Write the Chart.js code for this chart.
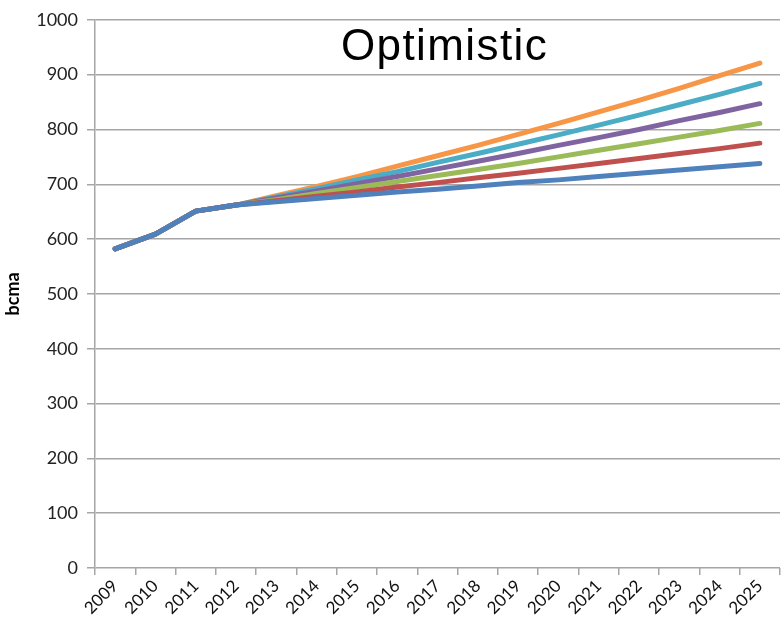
<!DOCTYPE html>
<html>
<head>
<meta charset="utf-8">
<script src="https://cdn.jsdelivr.net/npm/chart.js@4"></script>
<style>
	body { margin: 0; background: #fff; }
	#wrap { position: relative; width: 781px; height: 628px; }
	#chartTitle {
		position: absolute;
		left: 341px;
		top: 23px;
		font: 44px "Liberation Sans", Arial, sans-serif;
		line-height: 44px;
		letter-spacing: 1.4px;
		color: #000;
		white-space: nowrap;
	}
</style>
</head>
<body>
<div id="wrap">
	<canvas id="chartOptimistic" width="781" height="628"></canvas>
	<div id="chartTitle">Optimistic</div>
</div>
<script>
const years = ["2009", "2010", "2011", "2012", "2013", "2014", "2015", "2016", "2017",
	"2018", "2019", "2020", "2021", "2022", "2023", "2024", "2025"];
const yTicks = [0, 100, 200, 300, 400, 500, 600, 700, 800, 900, 1000];

const history = [582, 609, 651, 662];
const blue = [...history, 668, 674, 680, 686, 691, 697, 703, 708, 714, 720, 726, 732, 738];
const red = [...history, 670, 678, 686, 695, 703, 712, 720, 729, 738, 747, 756, 765, 775];
const green = [...history, 672, 683, 694, 705, 716, 727, 738, 750, 762, 774, 786, 798, 811];
const purple = [...history, 675, 688, 701, 714, 728, 742, 756, 771, 785, 800, 816, 831, 847];
const teal = [...history, 677, 692, 708, 723, 740, 756, 773, 790, 808, 826, 845, 864, 884];
const orange = [...history, 679, 696, 714, 733, 752, 771, 791, 811, 832, 853, 875, 898, 921];

const seriesColors = ["#4F81BD", "#C0504D", "#9BBB59", "#8064A2", "#4BACC6", "#F79646"];
const seriesData = [blue, red, green, purple, teal, orange];

const ctx = document.getElementById("chartOptimistic");
const chart = new Chart(ctx, {
	type: "line",
	data: {
		labels: years,
		// first dataset is drawn on top, like the blue base line in the picture
		datasets: seriesData.map((d, i) => ({
			data: d,
			borderColor: seriesColors[i],
			backgroundColor: seriesColors[i],
			borderWidth: 5,
			pointRadius: 0,
			tension: 0,
			borderCapStyle: "round",
			borderJoinStyle: "round",
		})),
	},
	options: {
		responsive: false,
		animation: false,
		layout: { padding: { top: 18, right: 1, left: 0, bottom: 0 } },
		plugins: { legend: { display: false }, tooltip: { enabled: false } },
		scales: {
			x: {
				offset: true,
				grid: {
					offset: true,
					drawOnChartArea: false,
					drawTicks: true,
					tickLength: 7,
					color: "#A6A6A6",
					lineWidth: 1.5,
				},
				border: { display: false },
				ticks: {
					minRotation: 45,
					maxRotation: 45,
					autoSkip: false,
					padding: 1,
					color: "#111",
					font: { family: "Lato", size: 17 },
				},
				afterFit: (scale) => { scale.height = 60; },
			},
			y: {
				min: 0,
				max: 1000,
				afterBuildTicks: (scale) => {
					scale.ticks = yTicks.map((v) => ({ value: v }));
				},
				grid: {
					color: "#A6A6A6",
					lineWidth: 1.5,
					tickLength: 8,
				},
				border: { color: "#A6A6A6", width: 1.5 },
				ticks: {
					padding: 9,
					color: "#222",
					font: { family: "Lato", size: 18 },
					callback: (v) => String(v),
				},
				title: {
					display: true,
					text: "bcma",
					color: "#000",
					padding: { top: 2, bottom: 0 },
					font: { family: "Lato", size: 18, weight: "bold" },
				},
				afterFit: (scale) => { scale.width = 95; },
			},
		},
	},
});
</script>
</body>
</html>
